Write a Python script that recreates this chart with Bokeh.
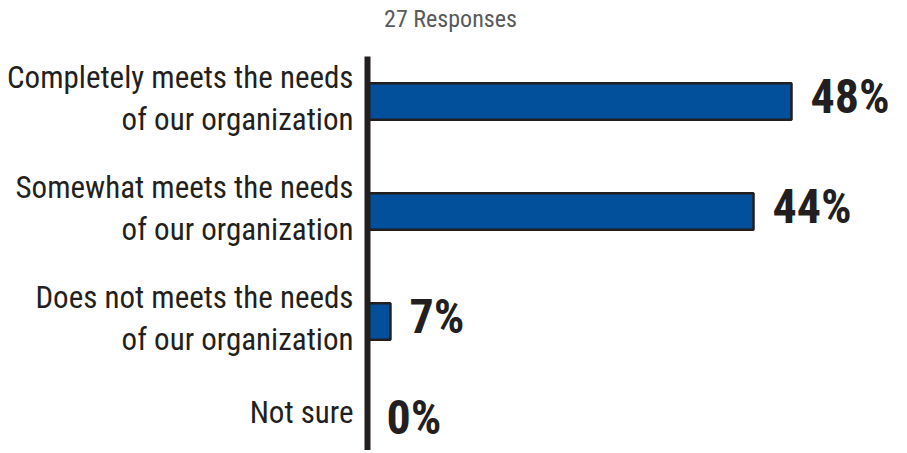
import numpy as np
from bokeh.plotting import figure
from bokeh.models import ColumnDataSource, Range1d, Label
from bokeh.core.properties import value
from bokeh.embed import file_html
from bokeh.resources import INLINE

# ---- data ----
title_text = "27 Responses"
categories = [
    "Completely meets the needs\nof our organization",
    "Somewhat meets the needs\nof our organization",
    "Does not meets the needs\nof our organization",
    "Not sure",
]
percent_values = [48, 44, 7, 0]          # printed values
bar_lengths = [48, 43.7, 2.6, 0]         # bar extents as drawn in the picture
# ---------------

FONT = "'Roboto Condensed', 'DejaVu Sans Condensed'"
W, H = 899, 450
px_per_unit_x = 424 / 48.0
zero_px = 367
row_px = 110.0
row0_px = 101

x0 = -zero_px / px_per_unit_x
x1 = x0 + W / px_per_unit_x
y_top = -row0_px / row_px
y_bot = y_top + H / row_px

n = len(categories)
rows = np.arange(n)
bl = np.array(bar_lengths, dtype=float)

src = ColumnDataSource(dict(
    y=rows,
    right=bl,
    cat=categories,
    pct=[f"{v}%" for v in percent_values],
    pct_dy=-5 + np.where(bl == 0, -9, 0),
    cat_dy=-3 + np.where(bl == 0, -16, 0),
))

p = figure(width=W, height=H, output_backend="svg", toolbar_location=None,
           x_axis_type=None, y_axis_type=None,
           x_range=Range1d(x0, x1), y_range=Range1d(y_bot, y_top),
           min_border=0, outline_line_color=None, background_fill_color="white",
           border_fill_color="white")
p.grid.visible = False

p.hbar(y="y", left=0, right="right", height=0.33, source=src,
       fill_color="#02509b", line_color="#231f20", line_width=2.5)

# vertical axis line
p.segment(x0=[0], y0=[(56 - 101) / row_px], x1=[0], y1=[y_bot + 0.2],
          line_color="#231f20", line_width=6, line_cap="butt")

p.text(x=0, y="y", text="cat", source=src, x_offset=-14, y_offset="cat_dy",
       text_align="right", text_baseline="middle", text_font=value(FONT),
       text_font_size="31px", text_color="#231f20", text_line_height=1.13)

p.text(x="right", y="y", text="pct", source=src, x_offset=19, y_offset="pct_dy",
       text_align="left", text_baseline="alphabetic", text_font=value(FONT),
       text_font_style="bold", text_font_size="48px", text_color="#231f20")

p.add_layout(Label(x=450, y=H - 18, x_units="screen", y_units="screen",
                   text=title_text, text_align="center", text_baseline="alphabetic",
                   text_font=FONT, text_font_size="24px", text_color="#58595b"))

open("out.html", "w").write(file_html(p, INLINE))
